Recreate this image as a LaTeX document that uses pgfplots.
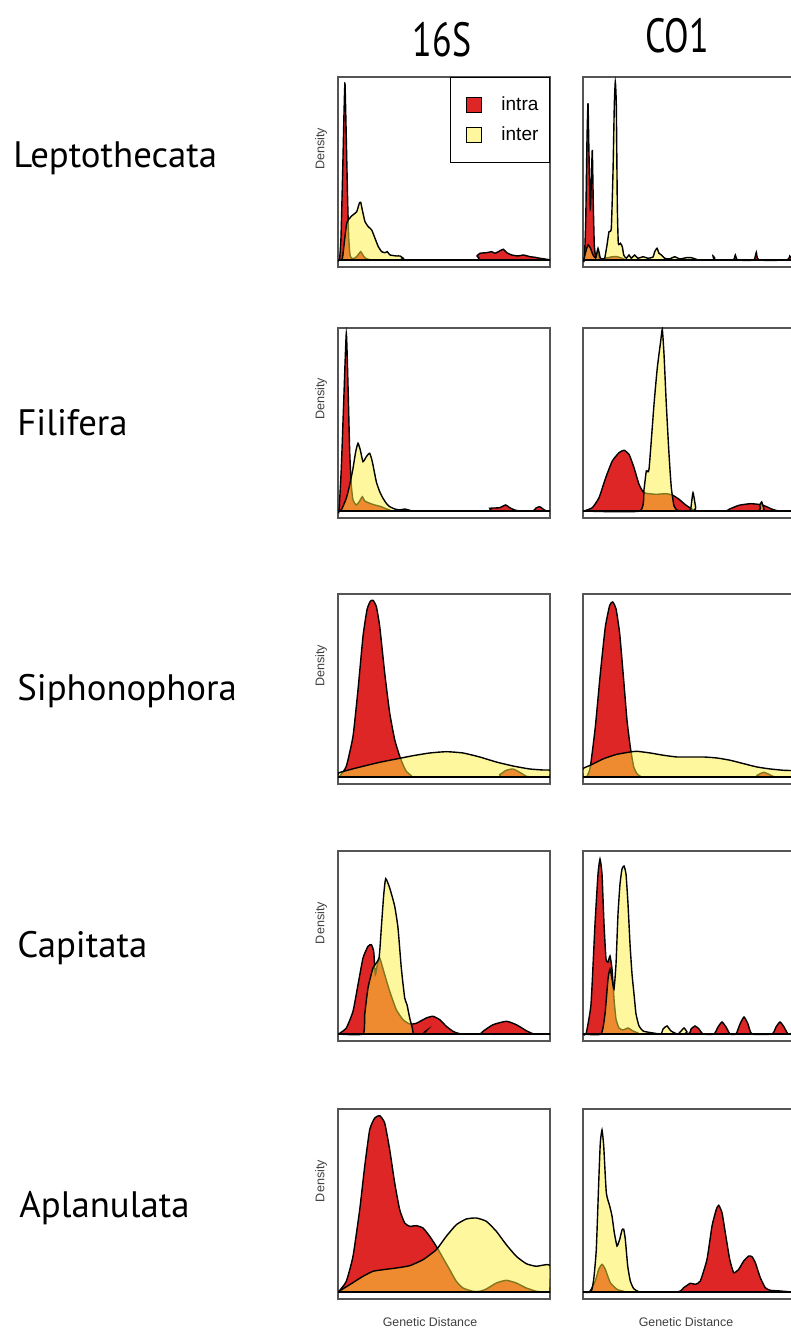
\documentclass[border=0pt]{standalone}
\usepackage{pgfplots}
\pgfplotsset{compat=1.18}
\usepackage{fontspec}
\setmainfont{Liberation Sans}
\newfontfamily\labelfont{PT Sans}
\usepackage{graphicx}
\definecolor{intra}{RGB}{222,38,38}
\definecolor{inter}{RGB}{255,240,60}
\definecolor{boxgray}{RGB}{85,85,85}
\pgfplotsset{
  panel/.style={scale only axis, width=106pt, height=95pt,
    xmin=0, xmax=212, ymin=-7, ymax=183, ticks=none,
    axis line style={draw=boxgray, line width=0.75pt},
    anchor=south west},
  intraplot/.style={fill=intra, draw=black, line width=0.7pt, smooth, tension=0.3},
  interplot/.style={fill=inter, fill opacity=0.5, draw=black, line width=0.7pt, smooth, tension=0.3},
  base/.style={black, line width=0.8pt, forget plot},
}
\newcommand{\rowlab}[1]{{\labelfont\fontsize{18.4pt}{20pt}\selectfont #1}}
\newcommand{\dens}{{\fontsize{6.3pt}{7pt}\selectfont Density}}
\newcommand{\coltitle}[1]{\scalebox{0.75}[1]{\labelfont\fontsize{24pt}{26pt}\selectfont #1}}
\begin{document}
\begin{tikzpicture}
\path[use as bounding box] (0pt,0pt) rectangle (395.5pt,665.5pt);
\clip (0pt,0pt) rectangle (395.5pt,665.5pt);

% titles
\node at (221pt,645.5pt) {\coltitle{16S}};
\node at (338.5pt,647.5pt) {\coltitle{CO1}};

% row labels
\node[anchor=base west, inner sep=0pt] at (6.5pt,581.5pt) {\rowlab{Leptothecata}};
\node[anchor=base west, inner sep=0pt] at (8.5pt,447.5pt) {\rowlab{Filifera}};
\node[anchor=base west, inner sep=0pt] at (8.5pt,315pt) {\rowlab{Siphonophora}};
\node[anchor=base west, inner sep=0pt] at (8.5pt,186.5pt) {\rowlab{Capitata}};
\node[anchor=base west, inner sep=0pt] at (9.5pt,56.5pt) {\rowlab{Aplanulata}};

% Density labels
\node[rotate=90, text=black!75] at (160.5pt,591pt) {\dens};
\node[rotate=90, text=black!75] at (160.5pt,466pt) {\dens};
\node[rotate=90, text=black!75] at (160.5pt,332.5pt) {\dens};
\node[rotate=90, text=black!75] at (160.5pt,204pt) {\dens};
\node[rotate=90, text=black!75] at (160.5pt,75pt) {\dens};

% Genetic Distance
\node[text=black!75] at (215pt,4.5pt) {\fontsize{6.2pt}{7pt}\selectfont Genetic Distance};
\node[text=black!75] at (343pt,4.5pt) {\fontsize{6.2pt}{7pt}\selectfont Genetic Distance};

% ---------------- Row 1 ----------------
\begin{axis}[panel, at={(169pt,532pt)},
  legend style={at={(1,1)}, anchor=north east, draw=black, line width=0.6pt,
    inner xsep=4.5pt, inner ysep=7.5pt, row sep=2.5pt, column sep=8.5pt,
    nodes={inner xsep=1pt, inner ysep=2pt},
    font=\fontsize{9.5pt}{11pt}\selectfont},
  legend cell align=left,
  legend image code/.code={\node[inner sep=0pt, minimum size=0pt, draw=none, fill=none] at (0pt,0pt) {}; \draw[#1, line width=0.5pt] (4pt,-3.75pt) rectangle (11.5pt,3.75pt);}]
\addplot[intraplot] coordinates {(0,0) (1.5,0) (3,23) (4.7,90) (6,147) (7,176.7) (8.7,103) (9.7,57) (10.7,23) (12,5) (14,1.5) (17,2) (20,5) (22.7,8.3) (25.5,4) (28,1.5) (32,0.3) (38,0) (137,0) (139,4) (142,6.7) (148.7,7.3) (153.7,8.3) (157,6.7) (160.3,8.3) (165.3,10.7) (168.7,7.3) (173.7,5) (180.3,4) (185.3,5) (192,3.3) (197,2.7) (202,1.7) (208.7,0.7) (212,0)} \closedcycle;
\addlegendentry{intra}
\addplot[interplot] coordinates {(0,0) (3.5,0) (4.7,3.3) (8.7,36.7) (13.7,44) (18.7,48.3) (21.3,56.7) (22.7,57.7) (24.3,50) (27,38.3) (30.3,33.3) (33.7,30) (37,21.7) (40.3,13.3) (43.7,8.3) (47,7.3) (49.3,8.3) (52,5) (58.7,4) (62,4) (65.3,1.7) (70.3,0) (212,0)} \closedcycle;
\addlegendentry{inter}
\addplot[base] coordinates {(0,0) (212,0)};
\end{axis}

\begin{axis}[panel, at={(291.5pt,532pt)}]
\addplot[intraplot] coordinates {(0,0) (1.3,0) (2.7,38.3) (4,121.7) (5,156.7) (6,105) (7.3,51.7) (8.3,78.3) (9.3,110) (10.3,55) (11.3,15) (12.7,3.3) (15,8.3) (16.7,1) (20,1) (23.3,2) (28.3,3) (33.3,3.5) (38.3,2) (41.7,0.5) (45,0) (128.3,0) (130,4) (131.7,0) (150,0) (152.3,5) (154.7,0) (170.7,0) (173.3,7.7) (176,0) (204,0) (206.7,4) (209.3,0) (212,0)} \closedcycle;
\addplot[interplot] coordinates {(0,0) (0.7,0) (2.7,8) (5,15) (7.3,12) (10,5) (12.7,2) (15,11.7) (17.3,2) (20,1) (21.7,1.7) (24,15) (26,28.3) (28.3,31.7) (30,88.3) (31.3,155) (32.3,178.3) (33.3,155) (34.3,55) (35.3,16.7) (37.3,16.7) (39.3,13.3) (40.7,5) (43.3,1.7) (46,5) (48.3,1.7) (51.7,5) (55,1.7) (60,3.3) (65,1.7) (70,3) (71.7,8.3) (74,11.7) (76,6.7) (78.3,5) (81.7,1.7) (86.7,1) (91.7,3.3) (96.7,1) (103.3,2.3) (108.3,2.3) (113.3,0.7) (120,0) (212,0)} \closedcycle;
\addplot[base] coordinates {(0,0) (212,0)};
\end{axis}

% ---------------- Row 2 ----------------
\begin{axis}[panel, at={(169pt,406.5pt)}]
\addplot[intraplot] coordinates {(0,0) (1,0) (3.3,42.7) (5.7,109.3) (8.3,177.7) (10,126) (11.7,59.3) (13.3,26) (15,11) (18.3,6) (21.7,10) (24.3,14.3) (26.7,10) (31.7,7.7) (36.7,6) (43.3,4.3) (46.7,2.7) (51.7,1) (56.7,0) (148.3,0) (151.7,2.7) (156.7,3) (161.7,3.3) (167.7,6) (171.7,3.3) (176.7,1) (181.7,0) (195,0) (198,3) (201.7,4.3) (205,2) (208.3,0) (212,0)} \closedcycle;
\addplot[interplot] coordinates {(0,0) (3.3,1) (8.3,12.7) (11.7,26) (15,42.7) (17.7,59.3) (20,67.7) (22.3,61) (25,49.3) (28.3,54.3) (31.7,57.7) (34.3,49.3) (38.3,29.3) (41.7,19.3) (45,12.7) (48.3,7.7) (51.7,4.3) (56.7,2) (61.7,1) (66.7,2) (71.7,0.7) (78.3,0) (212,0)} \closedcycle;
\addplot[base] coordinates {(0,0) (212,0)};
\end{axis}

\begin{axis}[panel, at={(291.5pt,406.5pt)}]
\addplot[intraplot] coordinates {(0,0) (1,0) (9.3,3.3) (16,13.3) (22.7,33.3) (29.3,50) (36,58.3) (41,60.7) (46,56.7) (51,43.3) (56,26.7) (61,18.3) (72.7,16.7) (82.7,17.3) (89.3,16) (96,11.7) (102.7,6) (109.3,1.7) (116,0) (142.7,0) (146,1.7) (156,5.7) (167.7,7.3) (179.3,6) (189.3,1.7) (196,0) (212,0)} \closedcycle;
\addplot[interplot] coordinates {(0,0) (56.7,0) (61,21.7) (63.3,40) (66,41.7) (71,106.7) (74.3,143.3) (77.7,170) (79.3,181.7) (81,156.7) (83.3,106.7) (86,56.7) (88.3,23.3) (91,5) (94.3,0.7) (99.3,0) (106,0) (107.7,1.7) (110,18.3) (112.7,3.3) (114.3,0) (174.3,0) (176.7,6) (178.7,9) (180.7,3) (182.7,0) (212,0)} \closedcycle;
\addplot[base] coordinates {(0,0) (212,0)};
\end{axis}

% ---------------- Row 3 ----------------
\begin{axis}[panel, at={(169pt,273.5pt)}]
\addplot[intraplot] coordinates {(0,0) (1.7,0.7) (8.3,10.7) (15,40.7) (20,87.3) (25,140.7) (29,167.3) (32.3,175.7) (35,176.7) (38.3,170.7) (41.7,150.7) (46.7,104) (51.7,64) (56.7,37.3) (61.7,20.7) (65,12.3) (68.3,5.7) (73.3,1.3) (78.3,0) (158.3,0) (161.7,2.3) (168.3,6.7) (175,8) (181.7,4.7) (188.3,0.7) (192,0) (212,0)} \closedcycle;
\addplot[interplot] coordinates {(0,0) (0.5,4) (11.7,7.3) (25,10.7) (41.7,14.7) (58.3,18) (75,21.3) (91.7,24) (108.3,25.3) (125,24) (141.7,20) (158.3,15) (175,11) (191.7,8) (205,7) (212,6.7) (212,0)} \closedcycle;
\addplot[base] coordinates {(0,0) (212,0)};
\end{axis}

\begin{axis}[panel, at={(291.5pt,273.5pt)}]
\addplot[intraplot] coordinates {(0,0) (4,0.7) (7.3,10) (12.3,50) (17.3,103.3) (22.3,150) (26.7,171.7) (29.7,175) (33,168.3) (36.7,143.3) (40.7,96.7) (44,56.7) (47.3,30) (50.7,10) (54,3.3) (57.3,0.7) (60,0) (170.7,0) (174,1.7) (180.7,4.7) (187.3,2) (192.3,0) (212,0)} \closedcycle;
\addplot[interplot] coordinates {(0,0) (0,8.3) (7.3,11.7) (20.7,18.3) (34,22.7) (47.3,25) (54,25.7) (67.3,24) (80.7,21.7) (94,20) (107.3,20) (120.7,20) (134,19) (147.3,16.7) (160.7,13.3) (174,10) (187.3,8) (200.7,6.7) (212,6) (212,0)} \closedcycle;
\addplot[base] coordinates {(0,0) (212,0)};
\end{axis}

% ---------------- Row 4 ----------------
\begin{axis}[panel, at={(169pt,145pt)}]
\addplot[intraplot] coordinates {(0,0) (1.7,0.7) (8.3,6) (15,22.7) (20,49.3) (25,76) (30,87.7) (33.3,89.3) (35.7,82.7) (37.3,59.3) (39.3,69.3) (41.7,76) (46.7,59.3) (51.7,42.7) (58.3,24.3) (65,14.3) (71.7,10) (78.3,10.7) (88.3,16) (95,17.7) (101.7,14.3) (108.3,7.7) (115,2.7) (121.7,0.3) (141.7,0) (145,2.7) (155,9.3) (168.3,12.7) (178.3,9.3) (188.3,3.3) (195,0.3) (201.7,0) (212,0)} \closedcycle;
\addplot[interplot] coordinates {(0,0) (25,0) (26.7,19.3) (30,46) (35,66) (41,76) (43.3,106) (45.7,139) (47.7,155.3) (51.7,146) (56.7,127.7) (60,106) (63.3,66) (66.7,36) (69,29.3) (71.7,16) (74.3,6) (75.7,0) (85,0) (88.3,3.3) (91.7,0) (212,0)} \closedcycle;
\addplot[base] coordinates {(0,0) (212,0)};
\end{axis}

\begin{axis}[panel, at={(291.5pt,145pt)}]
\addplot[intraplot] coordinates {(0,0) (3,0) (8,30) (12,110) (15,160) (17,175) (19,160) (21,110) (23,75) (25,72) (27,78) (29,65) (31,35) (33,15) (36,6) (40,4) (45,6) (50,3) (55,1) (58,0) (104,0) (108,5) (112,8) (116,5) (120,0) (131,0) (135,7) (139,12) (143,7) (147,0) (153,0) (157,10) (161,17) (165,10) (169,0) (189,0) (193,7) (197,12) (201,7) (205,0) (212,0)} \closedcycle;
\addplot[interplot] coordinates {(0,0) (18,0) (22,20) (25,55) (27,65) (29,55) (31,45) (33,70) (35,120) (37,150) (39,165) (41,168) (43,160) (45,130) (47,90) (49,60) (51,40) (53,20) (56,8) (60,3) (64,2) (70,1) (78,0) (80,5) (84,8) (88,3) (95,0) (101,6) (104,2) (108,0) (212,0)} \closedcycle;
\addplot[base] coordinates {(0,0) (212,0)};
\end{axis}

% ---------------- Row 5 ----------------
\begin{axis}[panel, at={(169pt,16pt)}]
\addplot[intraplot] coordinates {(0,0) (1,0.7) (8.3,10.7) (15,35.7) (21.7,82.3) (26.7,125.7) (31.7,162.3) (36.7,174) (41.7,176.3) (46.7,169) (51.7,142.3) (56.7,109) (61.7,82.3) (66.7,69) (71.7,65.7) (78.3,66.3) (85,64) (91.7,55.7) (98.3,45.7) (105,34) (111.7,22.3) (118.3,10.7) (125,4) (135,0.7) (141.7,0.7) (148.3,3) (158.3,9) (168.3,11.7) (178.3,9) (188.3,4) (198.3,0.7) (205,0) (212,0)} \closedcycle;
\addplot[interplot] coordinates {(0,0) (1,0.7) (11.7,7.3) (25,15.7) (35,20.7) (45,22.3) (58.3,24) (71.7,26.3) (85,32.3) (98.3,42.3) (108.3,55.7) (118.3,67.3) (128.3,73) (138.3,74) (148.3,70.7) (158.3,60.7) (168.3,47.3) (178.3,35.7) (188.3,28.3) (198.3,25.7) (212,26.7) (212,0)} \closedcycle;
\addplot[base] coordinates {(0,0) (212,0)};
\end{axis}

\begin{axis}[panel, at={(291.5pt,16pt)}]
\addplot[intraplot] coordinates {(0,0) (5,0) (7.3,1) (12.3,11) (15.7,22.7) (19,27.7) (22.3,22.7) (27.3,9.3) (34,2.7) (40.7,0.7) (45,0) (94,0) (100.7,4.3) (107.3,8.7) (112.3,7.7) (117.3,11) (124,32.7) (129,66) (133.3,82.7) (135.7,86.7) (139,79.3) (142.3,59.3) (146.7,32.7) (150.7,19.3) (155.7,22.7) (160.7,31) (165.7,36) (169,35.3) (172.3,29.3) (177.3,14.3) (182.3,4.3) (187.3,1.7) (197.3,1) (209,0) (212,0)} \closedcycle;
\addplot[interplot] coordinates {(0,0) (8,0) (10.7,12.7) (13.3,42.7) (15.7,109.3) (17.3,149.3) (19,162) (20.7,146) (23.3,99.3) (26.7,86) (29,76) (31.3,59.3) (34,46) (36.7,52.7) (39,62) (40.7,62.7) (42.3,52.7) (44.7,26) (47.3,11) (50.7,3.3) (55.7,0.3) (60,0) (212,0)} \closedcycle;
\addplot[base] coordinates {(0,0) (212,0)};
\end{axis}
\end{tikzpicture}
\end{document}
